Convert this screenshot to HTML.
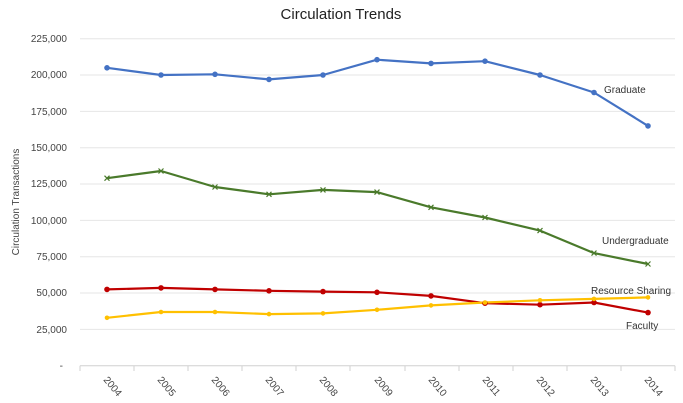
<!DOCTYPE html>
<html><head><style>body{margin:0;background:#fff}svg{display:block;font-family:"Liberation Sans",sans-serif}</style></head><body>
<svg width="683" height="403" xmlns="http://www.w3.org/2000/svg">
<text x="341" y="19" font-size="15" text-anchor="middle" fill="#222">Circulation Trends</text>
<g stroke="#e6e6e6" stroke-width="1">
<line x1="80" x2="675" y1="38.7" y2="38.7"/><line x1="80" x2="675" y1="75" y2="75"/><line x1="80" x2="675" y1="111.4" y2="111.4"/><line x1="80" x2="675" y1="147.7" y2="147.7"/><line x1="80" x2="675" y1="184" y2="184"/><line x1="80" x2="675" y1="220.4" y2="220.4"/><line x1="80" x2="675" y1="256.7" y2="256.7"/><line x1="80" x2="675" y1="293" y2="293"/><line x1="80" x2="675" y1="329.4" y2="329.4"/>
<line x1="80" x2="675" y1="365.7" y2="365.7" stroke="#d0d0d0"/>
</g>
<g stroke="#d0d0d0"><line x1="80" x2="80" y1="365.7" y2="371"/><line x1="134" x2="134" y1="365.7" y2="371"/><line x1="188" x2="188" y1="365.7" y2="371"/><line x1="242" x2="242" y1="365.7" y2="371"/><line x1="296" x2="296" y1="365.7" y2="371"/><line x1="350" x2="350" y1="365.7" y2="371"/><line x1="405" x2="405" y1="365.7" y2="371"/><line x1="459" x2="459" y1="365.7" y2="371"/><line x1="513" x2="513" y1="365.7" y2="371"/><line x1="567" x2="567" y1="365.7" y2="371"/><line x1="621" x2="621" y1="365.7" y2="371"/><line x1="675" x2="675" y1="365.7" y2="371"/></g>
<g font-size="10" fill="#444" text-anchor="end">
<text x="67" y="42">225,000</text><text x="67" y="78">200,000</text><text x="67" y="115">175,000</text><text x="67" y="151">150,000</text><text x="67" y="187">125,000</text><text x="67" y="224">100,000</text><text x="67" y="260">75,000</text><text x="67" y="296">50,000</text><text x="67" y="333">25,000</text><text x="63" y="369">-</text>
</g>
<text transform="translate(19,202) rotate(-90)" font-size="10" fill="#444" text-anchor="middle">Circulation Transactions</text>
<g font-size="10" fill="#444">
<text transform="translate(103,380) rotate(50)">2004</text><text transform="translate(157,380) rotate(50)">2005</text><text transform="translate(211,380) rotate(50)">2006</text><text transform="translate(265,380) rotate(50)">2007</text><text transform="translate(319,380) rotate(50)">2008</text><text transform="translate(374,380) rotate(50)">2009</text><text transform="translate(428,380) rotate(50)">2010</text><text transform="translate(482,380) rotate(50)">2011</text><text transform="translate(536,380) rotate(50)">2012</text><text transform="translate(590,380) rotate(50)">2013</text><text transform="translate(644,380) rotate(50)">2014</text>
</g>
<g fill="none" stroke-width="2.2" stroke-linejoin="round">
<polyline stroke="#4472c4" points="107,67.8 161,75 215,74.3 269,79.4 323,75 377,59.7 431,63.4 485,61.2 540,75 594,92.5 648,125.9"/>
<polyline stroke="#4a7a2b" points="107,178.2 161,171 215,187 269,194.3 323,189.9 377,192.1 431,207.3 485,217.5 540,230.6 594,253.1 648,264"/>
<polyline stroke="#c00000" points="107,289.4 161,287.9 215,289.4 269,290.8 323,291.6 377,292.3 431,295.9 485,303.2 540,304.7 594,302.5 648,312.6"/>
<polyline stroke="#ffc000" points="107,317.8 161,312 215,312 269,314.1 323,313.4 377,309.8 431,305.4 485,302.5 540,300.3 594,298.9 648,297.4"/>
</g>
<g stroke="#4a7a2b" stroke-width="1.2" fill="none">
<path d="M104.5,175.7l5,5m0,-5l-5,5"/><path d="M158.5,168.5l5,5m0,-5l-5,5"/><path d="M212.5,184.5l5,5m0,-5l-5,5"/><path d="M266.5,191.8l5,5m0,-5l-5,5"/><path d="M320.5,187.4l5,5m0,-5l-5,5"/><path d="M374.5,189.6l5,5m0,-5l-5,5"/><path d="M428.5,204.8l5,5m0,-5l-5,5"/><path d="M482.5,215l5,5m0,-5l-5,5"/><path d="M537.5,228.1l5,5m0,-5l-5,5"/><path d="M591.5,250.6l5,5m0,-5l-5,5"/><path d="M645.5,261.5l5,5m0,-5l-5,5"/>
</g>
<g fill="#4472c4"><circle cx="107" cy="67.8" r="2.8"/><circle cx="161" cy="75" r="2.8"/><circle cx="215" cy="74.3" r="2.8"/><circle cx="269" cy="79.4" r="2.8"/><circle cx="323" cy="75" r="2.8"/><circle cx="377" cy="59.7" r="2.8"/><circle cx="431" cy="63.4" r="2.8"/><circle cx="485" cy="61.2" r="2.8"/><circle cx="540" cy="75" r="2.8"/><circle cx="594" cy="92.5" r="2.8"/><circle cx="648" cy="125.9" r="2.8"/></g>
<g fill="#c00000"><circle cx="107" cy="289.4" r="2.8"/><circle cx="161" cy="287.9" r="2.8"/><circle cx="215" cy="289.4" r="2.8"/><circle cx="269" cy="290.8" r="2.8"/><circle cx="323" cy="291.6" r="2.8"/><circle cx="377" cy="292.3" r="2.8"/><circle cx="431" cy="295.9" r="2.8"/><circle cx="485" cy="303.2" r="2.8"/><circle cx="540" cy="304.7" r="2.8"/><circle cx="594" cy="302.5" r="2.8"/><circle cx="648" cy="312.6" r="2.8"/></g>
<g fill="#ffc000"><circle cx="107" cy="317.8" r="2.3"/><circle cx="161" cy="312" r="2.3"/><circle cx="215" cy="312" r="2.3"/><circle cx="269" cy="314.1" r="2.3"/><circle cx="323" cy="313.4" r="2.3"/><circle cx="377" cy="309.8" r="2.3"/><circle cx="431" cy="305.4" r="2.3"/><circle cx="485" cy="302.5" r="2.3"/><circle cx="540" cy="300.3" r="2.3"/><circle cx="594" cy="298.9" r="2.3"/><circle cx="648" cy="297.4" r="2.3"/></g>
<g font-size="10" fill="#333">
<text x="604" y="93">Graduate</text>
<text x="602" y="244">Undergraduate</text>
<text x="591" y="294">Resource Sharing</text>
<text x="626" y="329">Faculty</text>
</g>
</svg>
</body></html>
